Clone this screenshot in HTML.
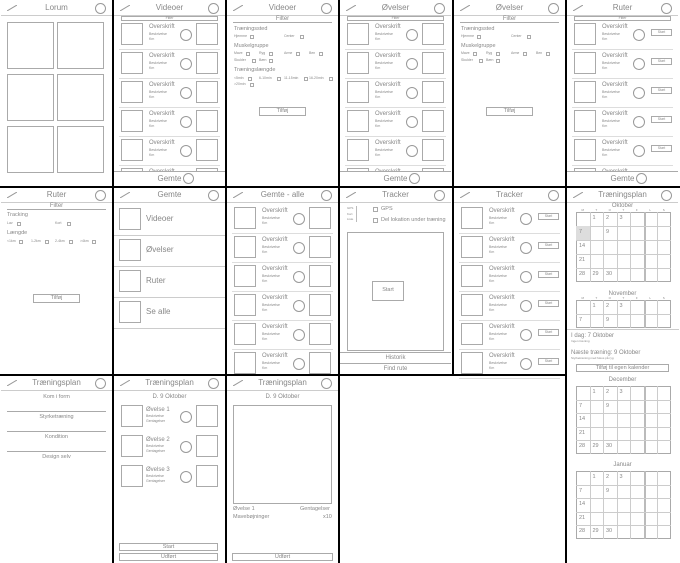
<!DOCTYPE html>
<html><head><meta charset="utf-8"><style>
body{margin:0;width:680px;height:563px;position:relative;overflow:hidden;background:#fff;font-family:"Liberation Sans",sans-serif;color:#888}
div{position:absolute;box-sizing:border-box}
.b{border:1px solid #aaa}
.t{white-space:nowrap}
.c{border:1px solid #999;border-radius:50%}
.k{background:#000}
</style></head><body>
<script>
let H='';
function d(x,y,w,h,cls,txt,st){H+=`<div class="${cls||''}" style="left:${x}px;top:${y}px;width:${w}px;height:${h}px;${st||''}">${txt||''}</div>`}
function t(x,y,s,fs,st){H+=`<div class="t" style="left:${x}px;top:${y}px;font-size:${fs}px;line-height:1;${st||''}">${s}</div>`}
function ct(x,y,w,s,fs,st){H+=`<div class="t" style="left:${x}px;top:${y}px;width:${w}px;text-align:center;font-size:${fs}px;line-height:1;${st||''}">${s}</div>`}
const W=113;
function head(x,y,title){d(x+1,y+1,W-2,15,'', '', 'border-bottom:1px solid #ccc;background:#fff');
 H+=`<svg style="position:absolute;left:${x+7}px;top:${y+5}px" width="10" height="6"><line x1="0" y1="6" x2="10" y2="0" stroke="#999"/></svg>`;
 ct(x,y+4,W,title,8);d(x+W-18,y+3,11,11,'c');}
function card(x,y,right){d(x+8,y,22,22,'b');t(x+36,y+1,'Overskrift',6);t(x+36,y+10,'Beskrivelse',3.5);t(x+36,y+15,'Km',3.5);
 d(x+67,y+6,12,12,'c');
 if(right=='box')d(x+83,y,22,22,'b');else if(right=='btn'){d(x+85,y+6,21,7,'b');ct(x+85,y+7.5,21,'Start',3.5)}
 d(x+6,y+26,W-12,1,'','','background:#ddd');}
function list(x,y,right,start,n,filter){if(filter){d(x+8,y+16,W-16,5,'b');ct(x+8,y+16.5,W-16,'Filter',3.5)}
 for(let i=0;i<n;i++)card(x,y+start+i*29,right);}
function footer(x,y,s){d(x+1,y+171,W-2,16,'','', 'border-top:1px solid #aaa;background:#fff');ct(x,y+175,W,s,8);d(x+70,y+173,11,11,'c');}
function cb(x,y,s){t(x,y,s,3.5);d(x+s.length*2+4,y-0.5,4,4,'b');}
// Row1
head(0,0,'Lorum');for(let r=0;r<3;r++)for(let c=0;c<2;c++)d(7+c*50,22+r*52,47,47,'b');
list(113,0,'box',23,6,1);footer(113,0,'Gemte');head(113,0,'Videoer');
head(226,0,'Videoer');ct(226,16,W,'Filter',6);d(233,22,W-14,1,'','','background:#aaa');
t(234,27,'Træningssted',5.5);cb(234,35,'Hjemme');cb(284,35,'Center');
t(234,44,'Muskelgruppe',5.5);cb(234,52,'Mave');cb(259,52,'Ryg');cb(284,52,'Arme');cb(309,52,'Ben');cb(234,59,'Skulder');cb(259,59,'Bæn');
t(234,68,'Træningslængde',5.5);cb(234,77,'<5min');cb(259,77,'6-10min');cb(284,77,'11-15min');cb(309,77,'16-20min');cb(234,83,'>20min');
d(259,107,47,9,'b');ct(259,109,47,'Tilføj',5.5);
list(339,0,'box',23,6,1);footer(339,0,'Gemte');head(339,0,'Øvelser');
head(453,0,'Øvelser');ct(453,16,W,'Filter',6);d(460,22,W-14,1,'','','background:#aaa');
t(461,27,'Træningssted',5.5);cb(461,35,'Hjemme');cb(511,35,'Center');t(461,44,'Muskelgruppe',5.5);cb(461,52,'Mave');cb(486,52,'Ryg');cb(511,52,'Arme');cb(536,52,'Ben');cb(461,59,'Skulder');cb(486,59,'Bæn');
d(486,107,47,9,'b');ct(486,109,47,'Tilføj',5.5);
list(566,0,'btn',23,6,1);footer(566,0,'Gemte');head(566,0,'Ruter');
// Row2
head(0,187,'Ruter');ct(0,203,W,'Filter',6);d(7,209,W-14,1,'','','background:#aaa');
t(7,213,'Tracking',5.5);cb(7,222,'Lav');cb(55,222,'Kort');t(7,231,'Længde',5.5);cb(7,240,'<1km');cb(31,240,'1-2km');cb(55,240,'2-4km');cb(80,240,'>4km');
d(33,294,47,9,'b');ct(33,296,47,'Tilføj',5.5);
head(113,187,'Gemte');['Videoer','Øvelser','Ruter','Se alle'].forEach((s,i)=>{d(119,208+i*31,22,22,'b');t(146,215+i*31,s,8);d(113,235+i*31,W,1,'','','background:#ccc')});
list(226,187,'box',20,6,0);head(226,187,'Gemte - alle');
head(339,187,'Tracker');t(347,207,'GPS',3);t(347,213,'Kort',3);t(347,218,'Liste',3);d(356,206,1,16,'','','background:#bbb');
d(373,207,5,5,'b');t(381,207,'GPS',5.5);d(373,218,5,5,'b');t(381,218,'Del lokation under træning',5.5);
d(347,232,W-16,119,'b');d(372,281,32,20,'b');ct(372,288,32,'Start',5.5);
d(340,352,W-2,12,'','','border-top:1px solid #aaa;border-bottom:1px solid #aaa');ct(339,355,W,'Historik',6);ct(339,366,W,'Find rute',6);
list(453,187,'btn',20,6,0);head(453,187,'Tracker');
head(566,187,'Træningsplan');
function cal(x,y,name,rows,days,hl,letters,rh){rh=rh||14;ct(x,y,W,name,6);if(letters)['M','T','O','T','F','L','S'].forEach((l,i)=>ct(x+10+i*13.5,y+6,13.5,l,3));
 const gy=y+9;d(x+10,gy,94.5,rows*rh,'b');for(let i=1;i<7;i++)d(x+10+i*13.5,gy,1,rows*rh,'','',`background:${i==5?'#bbb;width:2px':'#ccc'}`);
 for(let r=1;r<rows;r++)d(x+10,gy+r*rh,94.5,1,'','','background:#ccc');
 days.forEach(([r,c,s])=>{if(hl&&s==hl)d(x+10+c*13.5,gy+r*rh,13.5,rh,'','','background:#ddd');t(x+13+c*13.5,gy+r*rh+4,s,5.5)});}
const D=[[0,1,'1'],[0,2,'2'],[0,3,'3'],[1,0,'7'],[1,2,'9'],[2,0,'14'],[3,0,'21'],[4,0,'28'],[4,1,'29'],[4,2,'30']];
cal(566,203,'Oktober',5,D,'7',1);
cal(566,291,'November',2,[[0,1,'1'],[0,2,'2'],[0,3,'3'],[1,0,'7'],[1,2,'9']],0,1);
d(567,329,W-1,1,'','','background:#ccc');t(571,333,'I dag: 7 Oktober',6);t(571,340,'Ingen træning',3);
t(571,350,'Næste træning: 9 Oktober',6);t(571,357,'Styrketræning med fokus på ryg',3);d(576,364,W-20,8,'b');ct(576,365.5,W-20,'Tilføj til egen kalender',5.5);
// Row3
head(0,375,'Træningsplan');['Kom i form','Styrketræning','Kondition','Design selv'].forEach((s,i)=>{ct(0,395+i*20,W,s,5.5);if(i<3)d(7,411+i*20,W-14,1,'','','background:#aaa')});
head(113,375,'Træningsplan');ct(113,394,W,'D. 9 Oktober',6);
for(let i=0;i<3;i++){const y=405+i*30;d(121,y,22,22,'b');t(146,y+2,'Øvelse '+(i+1),6);t(146,y+10,'Beskrivelse',3.5);t(146,y+15,'Gentagelser',3.5);d(180,y+6,12,12,'c');d(196,y,22,22,'b')}
d(119,543,W-14,8,'b');ct(119,544.5,W-14,'Start',5.5);d(119,553,W-14,8,'b');ct(119,554.5,W-14,'Udført',5.5);
head(226,375,'Træningsplan');ct(226,394,W,'D. 9 Oktober',6);d(233,405,W-14,99,'b');
t(233,507,'Øvelse 1',5.5);t(300,507,'Gentagelser',5.5);t(233,515,'Mavebøjninger',5.5);t(323,515,'x10',5.5);
d(232,553,W-12,8,'b');ct(232,554.5,W-12,'Udført',5.5);
cal(566,377,'December',5,D,0,0,13.5);
cal(566,462,'Januar',5,D,0,0,13.5);
// black borders
[112,225,338,452,565].forEach(x=>d(x,0,2,375,'k'));
[112,225,338].forEach(x=>d(x,375,2,188,'k'));d(565,375,2,188,'k');
d(0,186,680,2,'k');d(0,374,566,2,'k');
document.write(H);
</script>
</body></html>
